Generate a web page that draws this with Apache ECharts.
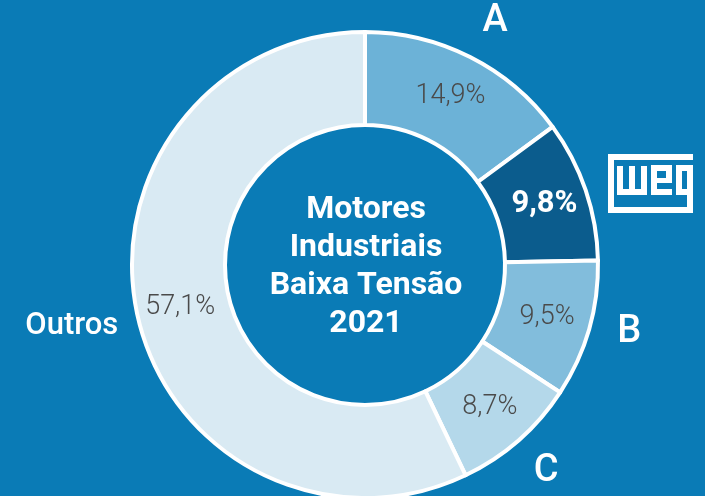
<!DOCTYPE html>
<html>
<head>
<meta charset="utf-8">
<script src="https://cdn.jsdelivr.net/npm/echarts@6/dist/echarts.min.js"></script>
<style>
  html, body { margin: 0; padding: 0; background: #0a7bb6; }
  #chart { width: 705px; height: 496px; }
</style>
</head>
<body>
<div id="chart"></div>
<script>
// market share, clockwise from the top
const names = ['A', 'WEG', 'B', 'C', 'Outros']
const shares = [14.9, 9.8, 9.5, 8.7, 57.1]
const centerLines = ['Motores', 'Industriais', 'Baixa Tensão', '2021']

const sliceColors = ['#6cb2d7', '#0b5c8d', '#82bddc', '#b4d8ea', '#d9eaf3']
const bg = '#0a7bb6'

const chart = echarts.init(document.getElementById('chart'))

const fmt = v => v.toFixed(1).replace('.', ',') + '%'

// nudges for the outer name labels
const nameOffsets = { A: [6, 2], B: [0, -8], C: [0, 0], Outros: [-25, 0] }

const ringData = names.map((n, i) => ({
  name: n,
  value: shares[i],
  itemStyle: { color: sliceColors[i] },
  label: n === 'WEG'
    ? { color: '#fff', fontWeight: 'bold', fontSize: 31 }
    : { color: '#4a4a4a', fontWeight: 300, fontSize: 27 }
}))

const nameData = names.map((n, i) => ({
  name: n,
  value: shares[i],
  label: n === 'WEG'
    ? { show: false }
    : { offset: nameOffsets[n], fontSize: n === 'Outros' ? 31 : 38 }
}))

// weg logo drawn with blocks (frame + letters)
const logoBlocks = [
  [0, 0, 85, 6], [0, 0, 6, 59], [0, 53, 85, 6],
  [9, 12, 6, 29], [21, 12, 6, 29], [33, 12, 6, 29], [9, 35, 30, 6],
  [43, 11, 21, 6], [43, 11, 6, 30], [43, 24, 21, 5], [58, 11, 6, 18], [43, 35, 21, 6],
  [68, 11, 17, 6], [68, 11, 6, 30], [68, 35, 17, 6], [79, 11, 6, 48]
]

const option = {
  backgroundColor: bg,
  animation: false,
  graphic: [
    {
      type: 'group',
      x: 608,
      y: 154,
      children: logoBlocks.map(b => ({
        type: 'rect',
        shape: { x: b[0], y: b[1], width: b[2], height: b[3] },
        style: { fill: '#fff' }
      }))
    },
    {
      type: 'text',
      x: 366,
      y: 267,
      style: {
        text: centerLines.join('\n'),
        fill: '#fff',
        font: 'bold 32px Roboto',
        lineHeight: 38,
        align: 'center',
        verticalAlign: 'middle'
      }
    }
  ],
  series: [
    {
      type: 'pie',
      center: [365, 265],
      radius: [140, 233],
      startAngle: 90,
      silent: true,
      itemStyle: { borderColor: '#fff', borderWidth: 4 },
      label: {
        show: true,
        position: 'inside',
        fontFamily: 'Roboto',
        formatter: p => fmt(p.value)
      },
      labelLine: { show: false },
      emphasis: { disabled: true },
      data: ringData
    },
    {
      type: 'pie',
      center: [365, 265],
      radius: [250, 294],
      startAngle: 90,
      silent: true,
      itemStyle: { color: 'transparent' },
      label: {
        show: true,
        position: 'inside',
        color: '#fff',
        fontFamily: 'Roboto',
        fontWeight: 500,
        formatter: '{b}'
      },
      labelLine: { show: false },
      emphasis: { disabled: true },
      data: nameData
    }
  ]
}

chart.setOption(option)
</script>
</body>
</html>
